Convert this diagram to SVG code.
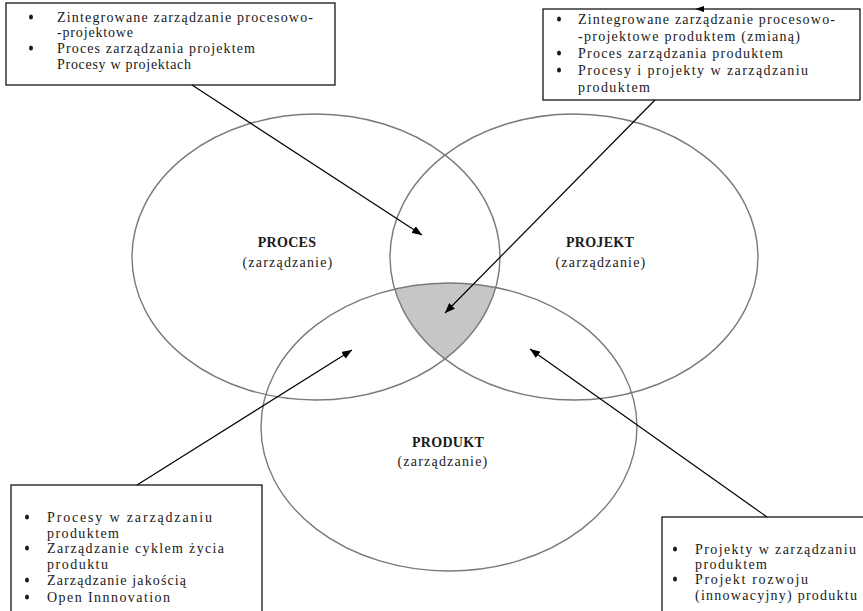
<svg xmlns="http://www.w3.org/2000/svg" width="863" height="611" viewBox="0 0 863 611">
  <style>
    .set { fill: none; stroke: #7a7a7a; stroke-width: 1.4; }
    .box { fill: #ffffff; stroke: #000000; stroke-width: 1.2; }
    .link { fill: none; stroke: #000000; stroke-width: 1.2; }
    .item { font-family: "Liberation Serif", "Times New Roman", serif; font-size: 14px; fill: #1a1a1a; }
    .dot { fill: #1a1a1a; }
    .title { font-family: "Liberation Serif", "Times New Roman", serif; font-size: 14px; font-weight: bold; fill: #1a1a1a; text-anchor: middle; }
    .sub { font-family: "Liberation Serif", "Times New Roman", serif; font-size: 14px; fill: #1a1a1a; text-anchor: middle; }
  </style>
  <defs>
    <marker id="head" viewBox="0 0 10 8" refX="10" refY="4" markerWidth="10" markerHeight="8" markerUnits="userSpaceOnUse" orient="auto">
      <path d="M0,0 L10,4 L0,8 Z" fill="#000000"/>
    </marker>
    <ellipse id="bullet" class="dot" cx="0" cy="0" rx="2" ry="2.6"/>
    <clipPath id="clipProces">
      <ellipse cx="316" cy="257" rx="184" ry="143"/>
    </clipPath>
    <clipPath id="clipProjekt">
      <ellipse cx="574" cy="257" rx="184" ry="143"/>
    </clipPath>
  </defs>

  <rect width="863" height="611" fill="#ffffff"/>

  <!-- common core of the three sets -->
  <g id="core" clip-path="url(#clipProces)">
    <g clip-path="url(#clipProjekt)">
      <ellipse cx="449" cy="427" rx="188" ry="144" fill="#c6c6c6"/>
    </g>
  </g>

  <g id="proces">
    <ellipse class="set" cx="316" cy="257" rx="184" ry="143"/>
    <text class="title" x="287" y="247" letter-spacing="0.3">PROCES</text>
    <text class="sub" x="288" y="267" letter-spacing="1.2">(zarządzanie)</text>
  </g>

  <g id="projekt">
    <ellipse class="set" cx="574" cy="257" rx="184" ry="143"/>
    <text class="title" x="600" y="247" letter-spacing="0.3">PROJEKT</text>
    <text class="sub" x="601" y="267" letter-spacing="1.2">(zarządzanie)</text>
  </g>

  <g id="produkt">
    <ellipse class="set" cx="449" cy="427" rx="188" ry="144"/>
    <text class="title" x="448" y="447" letter-spacing="0.3">PRODUKT</text>
    <text class="sub" x="443" y="466" letter-spacing="1.2">(zarządzanie)</text>
  </g>

  <!-- note boxes -->
  <g id="note-proces-projekt">
    <rect class="box" x="6" y="3" width="329" height="82"/>
    <use href="#bullet" x="31" y="17"/>
    <text class="item" x="57" y="22" textLength="256" lengthAdjust="spacing">Zintegrowane zarządzanie procesowo-</text>
    <text class="item" x="57" y="37" textLength="76" lengthAdjust="spacing">-projektowe</text>
    <use href="#bullet" x="31" y="48"/>
    <text class="item" x="57" y="53" textLength="198" lengthAdjust="spacing">Proces zarządzania projektem</text>
    <text class="item" x="57" y="69" textLength="134" lengthAdjust="spacing">Procesy w projektach</text>
  </g>

  <g id="note-core">
    <rect class="box" x="543" y="9" width="317" height="91"/>
    <use href="#bullet" x="559" y="19"/>
    <text class="item" x="578" y="24" textLength="257" lengthAdjust="spacing">Zintegrowane zarządzanie procesowo-</text>
    <text class="item" x="578" y="41" textLength="222" lengthAdjust="spacing">-projektowe produktem (zmianą)</text>
    <use href="#bullet" x="559" y="53"/>
    <text class="item" x="578" y="58" textLength="205" lengthAdjust="spacing">Proces zarządzania produktem</text>
    <use href="#bullet" x="559" y="70"/>
    <text class="item" x="578" y="75" textLength="230" lengthAdjust="spacing">Procesy i projekty w zarządzaniu</text>
    <text class="item" x="578" y="92" textLength="72" lengthAdjust="spacing">produktem</text>
    <path d="M695,9 L704,6 L704,12 Z" fill="#000000"/>
  </g>

  <g id="note-proces-produkt">
    <rect class="box" x="11" y="485" width="251" height="140"/>
    <use href="#bullet" x="27" y="517"/>
    <text class="item" x="47" y="522" textLength="165" lengthAdjust="spacing">Procesy  w zarządzaniu</text>
    <text class="item" x="47" y="538" textLength="72" lengthAdjust="spacing">produktem</text>
    <use href="#bullet" x="27" y="548"/>
    <text class="item" x="47" y="553" textLength="177" lengthAdjust="spacing">Zarządzanie cyklem życia</text>
    <text class="item" x="47" y="569" textLength="61" lengthAdjust="spacing">produktu</text>
    <use href="#bullet" x="27" y="580"/>
    <text class="item" x="47" y="585" textLength="139" lengthAdjust="spacing">Zarządzanie jakością</text>
    <use href="#bullet" x="27" y="597"/>
    <text class="item" x="47" y="602" textLength="123" lengthAdjust="spacing">Open Innnovation</text>
  </g>

  <g id="note-projekt-produkt">
    <rect class="box" x="662" y="517" width="220" height="110"/>
    <use href="#bullet" x="675" y="549"/>
    <text class="item" x="695" y="554" textLength="161" lengthAdjust="spacing">Projekty w zarządzaniu</text>
    <text class="item" x="695" y="569" textLength="72" lengthAdjust="spacing">produktem</text>
    <use href="#bullet" x="675" y="579"/>
    <text class="item" x="695" y="584" textLength="113" lengthAdjust="spacing">Projekt rozwoju</text>
    <text class="item" x="695" y="600" textLength="162" lengthAdjust="spacing">(innowacyjny) produktu</text>
  </g>

  <!-- connectors -->
  <g id="connectors">
    <line class="link" x1="192" y1="85" x2="422" y2="235" marker-end="url(#head)"/>
    <line class="link" x1="655" y1="100" x2="445" y2="313" marker-end="url(#head)"/>
    <line class="link" x1="137" y1="485" x2="352" y2="350" marker-end="url(#head)"/>
    <line class="link" x1="767" y1="517" x2="530" y2="349" marker-end="url(#head)"/>
  </g>
</svg>
